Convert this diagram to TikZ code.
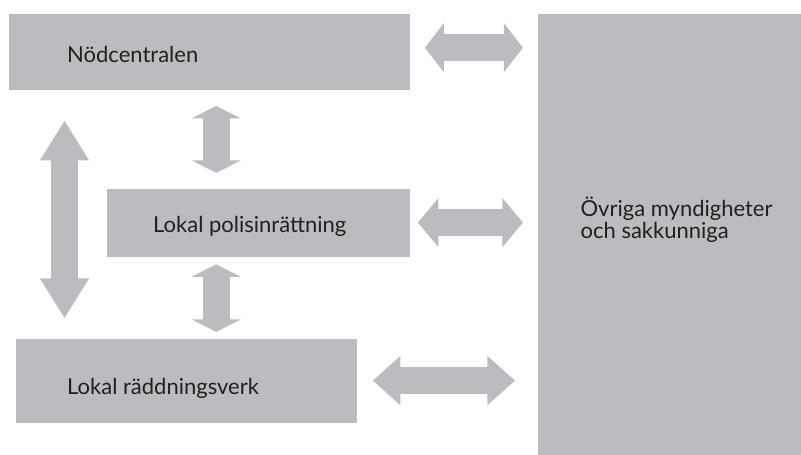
\documentclass[tikz,border=0pt]{standalone}
\usepackage{fontspec}
\setmainfont{Lato}
\usepackage{tikz}
\usetikzlibrary{arrows.meta,positioning,calc}
\definecolor{boxgrey}{RGB}{187,188,192}
\definecolor{ink}{RGB}{35,31,32}
\tikzset{
  box/.style={rectangle,fill=boxgrey,inner sep=0pt},
  lbl/.style={inner sep=0pt,text=ink,font=\fontsize{22}{22}\selectfont},
  dbl/.style={line width=27pt,draw=boxgrey,
    {Triangle[length=#1,width=49pt,line width=1.2pt 0 0]}-{Triangle[length=#1,width=49pt,line width=1.2pt 0 0]}},
  dbl/.default=20pt
}

\begin{document}
\begin{tikzpicture}[x=1pt,y=-1pt]
\useasboundingbox (0,0) rectangle (801,455);
\node[box,anchor=north west,minimum width=401pt,minimum height=76pt] (N) at (9,14) {};
\node[box,minimum width=303pt,minimum height=68pt,below right=98pt and 98pt of N.south west] (P) {};
\node[box,minimum width=341pt,minimum height=84pt,below right=248pt and 7pt of N.south west] (R) {};
\node[box,minimum width=264pt,minimum height=441pt,right=127pt of N.north east,anchor=north west] (O) {};
\node[lbl,anchor=base west] (Nt) at ([xshift=58pt,yshift=-10pt]N.west) {Nödcentralen};
\node[lbl,anchor=base west] (Pt) at ([xshift=46pt,yshift=-10pt]P.west) {Lokal polisinrättning};
\node[lbl,anchor=base west] (Rt) at ([xshift=51pt,yshift=-14pt]R.west) {Lokal räddningsverk};
\node[lbl,anchor=west,align=left] (Ot) at ([xshift=43pt,yshift=15pt]O.west) {Övriga myndigheter\\och sakkunniga};
\draw[dbl=19pt,shorten <=14.5pt,shorten >=14.5pt] ([yshift=4.5pt]N.east) -- ([yshift=4.5pt]N.east -| O.west);
\draw[dbl=20.5pt,shorten <=7.5pt,shorten >=14.5pt] (P.east) -- (P.east -| O.west);
\draw[dbl=27.5pt,shorten <=15.5pt,shorten >=22.5pt] (R.east) -- (R.east -| O.west);
\draw[dbl=12.5pt,shorten <=15.5pt,shorten >=15.5pt] ([xshift=6.5pt]N.south) -- ([xshift=6.5pt]N.south |- P.north);
\draw[dbl=12.5pt,shorten <=7.5pt,shorten >=6.5pt] ([xshift=6.5pt]N.south |- P.south) -- ([xshift=6.5pt]N.south |- R.north);
\draw[dbl=39.5pt,shorten <=30.5pt,shorten >=20.5pt] ([xshift=55.5pt]N.south west) -- ([xshift=55.5pt]N.south west |- R.north);
\end{tikzpicture}
\end{document}
